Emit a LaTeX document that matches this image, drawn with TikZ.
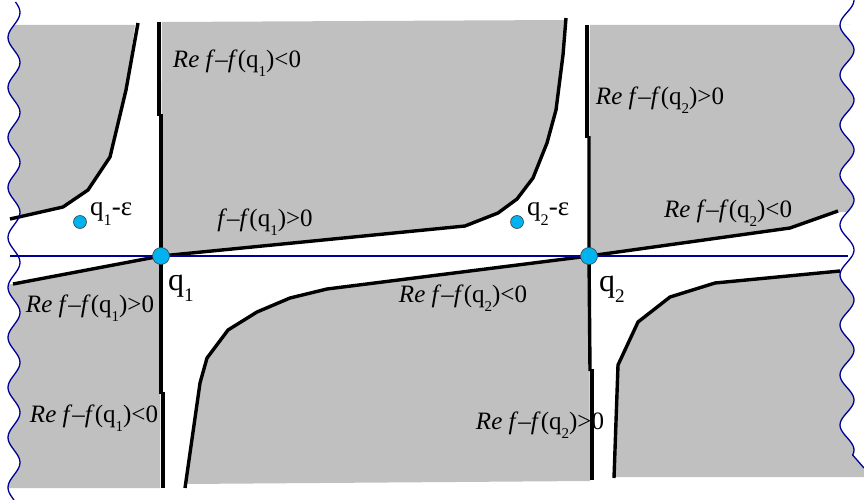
\documentclass[tikz,border=0pt]{standalone}
\usepackage{fontspec}
\usepackage{graphicx}
\setmainfont{Liberation Serif}

\definecolor{regiongray}{RGB}{192,192,192}
\definecolor{pointcyan}{RGB}{0,178,240}
\definecolor{axisblue}{RGB}{0,0,150}

% lowered small index, as in q_1
\newcommand{\lowsub}[1]{\raisebox{-0.75ex}{\scalebox{0.6}{#1}}}
\newcommand{\diffq}[1]{\textit{f}–\textit{f}(q\lowsub{#1})}

\tikzset{
  region/.style={fill=regiongray},
  wall/.style={line width=3.4pt, line join=round},
  waveline/.style={axisblue, line width=1.3pt},
  saddle/.style={circle, draw=black!75, line width=0.6pt, fill=pointcyan,
                 inner sep=0pt, minimum size=17pt},
  shifted/.style={circle, draw=black!75, line width=0.6pt, fill=pointcyan,
                  inner sep=0pt, minimum size=13pt},
  sign/.style={font=\fontsize{25}{29}\selectfont, inner sep=0pt},
  pointname/.style={font=\fontsize{32}{36}\selectfont, inner sep=0pt},
  shiftname/.style={font=\fontsize{27}{30}\selectfont, inner sep=0pt, anchor=west},
}

\begin{document}
\begin{tikzpicture}[x=1pt, y=-1pt]
\useasboundingbox (0,0) rectangle (864,500);

\coordinate (Q1) at (161,256);
\coordinate (Q2) at (589,256);

% -----------------------------
% Shaded regions
% -----------------------------
\fill[region] (135,25) -- (126,90) -- (110,157) -- (88,190) -- (63,207) -- (14,219)
    -- plot[variable=\t, domain=219:25, samples=60] ({14+6*sin(7.2*\t)}, \t) -- cycle;
\fill[region] (162,22) -- (565,20) -- (563,55) -- (556,110) -- (547,143) -- (533,178)
    -- (517,199) -- (498,213) -- (465,226) -- (Q1) -- cycle;
\fill[region] (590,25) -- (850,25)
    -- plot[variable=\t, domain=25:212, samples=60] ({847+7*sin(7.2*\t+90)}, \t)
    -- (837,212) -- (790,228) -- (Q2) -- cycle;
\fill[region] (13,284) -- (Q1) -- (160,488) -- (16,488)
    -- plot[variable=\t, domain=488:284, samples=60] ({14+6*sin(7.2*\t)}, \t) -- cycle;
\fill[region] (185,484) -- (200,383) -- (207,358) -- (228,330) -- (257,312) -- (290,298)
    -- (327,289) -- (Q2) -- (590,481) -- cycle;
\fill[region] (840,272) -- (715,283) -- (670,297) -- (638,322) -- (618,365) -- (614,477)
    -- (864,477) -- (864,468)
    -- plot[variable=\t, domain=455:272, samples=60] ({847+7*sin(7.2*\t+90)}, \t) -- cycle;

% -----------------------------
% Level lines
% -----------------------------
\draw[wall] (138,23) -- (126,90) -- (110,157) -- (88,190) -- (63,207) -- (10,219);
\draw[wall] (566,18) -- (563,55) -- (556,110) -- (547,143) -- (533,178) -- (517,199)
    -- (498,213) -- (465,226) -- (Q1);
\draw[wall] (Q2) -- (790,228) -- (838,211);
\draw[wall] (13,284) -- (Q1);
\draw[wall] (185,488) -- (200,383) -- (207,358) -- (228,330) -- (257,312) -- (290,298)
    -- (327,289) -- (Q2);
\draw[wall] (840,271) -- (715,283) -- (670,297) -- (638,322) -- (618,365) -- (614,478);

% vertical lines through q1 and q2
\draw[wall] (159,22) -- (159,116);
\draw[wall] (161,114) -- (Q1) -- (161,394);
\draw[wall] (163,392) -- (163,488);
\draw[wall] (587,25) -- (587,138);
\draw[wall] (589,136) -- (Q2) -- (590,371);
\draw[wall] (592,369) -- (592,480);

% -----------------------------
% Real axis and cut edges
% -----------------------------
\draw[waveline] (10,256) -- (848,256);
\draw[waveline] plot[variable=\t, domain=2:500, samples=200, smooth] ({14+6*sin(7.2*\t)}, \t);
\draw[waveline] plot[variable=\t, domain=0:455, samples=200, smooth] ({847+7*sin(7.2*\t+90)}, \t)
    -- (864,468);

% -----------------------------
% Points
% -----------------------------
\node[saddle] (q1) at (Q1) {};
\node[saddle] (q2) at (Q2) {};
\node[shifted] (q1eps) at (80,222) {};
\node[shifted] (q2eps) at (517,222) {};

\node[pointname] (q1name) at (181,288) {q\lowsub{1}};
\node[pointname] (q2name) at (612,289) {q\lowsub{2}};
\node[shiftname] (q1epsname) at (90,214) {q\lowsub{1}-ε};
\node[shiftname] (q2epsname) at (527,214) {q\lowsub{2}-ε};

% -----------------------------
% Labels
% -----------------------------
\node[sign] (signA) at (237,63)  {\textit{Re} \diffq{1}<0};
\node[sign] (signB) at (265,222) {\diffq{1}>0};
\node[sign] (signC) at (660,100) {\textit{Re} \diffq{2}>0};
\node[sign] (signD) at (728,213) {\textit{Re} \diffq{2}<0};
\node[sign] (signE) at (90,308)  {\textit{Re} \diffq{1}>0};
\node[sign] (signF) at (94,418)  {\textit{Re} \diffq{1}<0};
\node[sign] (signG) at (463,298) {\textit{Re} \diffq{2}<0};
\node[sign] (signH) at (540,425) {\textit{Re} \diffq{2}>0};

\end{tikzpicture}
\end{document}
